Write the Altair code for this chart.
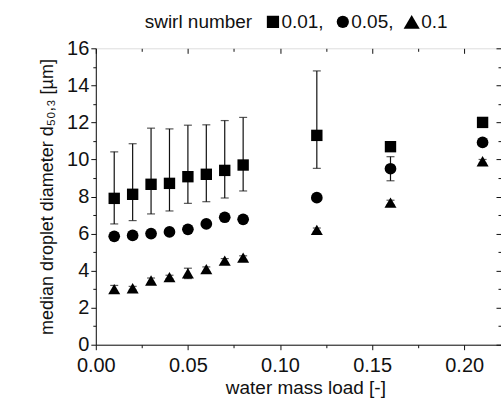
import altair as alt
import pandas as pd

# ---- data ----
load = [0.01, 0.02, 0.03, 0.04, 0.05, 0.06, 0.07, 0.08, 0.12, 0.16, 0.21]

d_s001 = [7.90, 8.12, 8.66, 8.71, 9.07, 9.20, 9.41, 9.70, 11.30, 10.69, 12.00]
lo_s001 = [6.52, 6.70, 7.06, 7.22, 7.63, 7.72, 7.92, 8.30, 9.52, 10.55, 11.90]
hi_s001 = [10.41, 10.85, 11.69, 11.65, 11.85, 11.87, 12.10, 12.27, 14.78, 10.85, 12.10]

d_s005 = [5.85, 5.90, 6.00, 6.09, 6.23, 6.52, 6.88, 6.77, 7.94, 9.50, 10.92]
lo_s005 = [5.65, 5.75, 5.85, 5.95, 6.10, 6.40, 6.75, 6.65, 7.80, 8.85, 10.80]
hi_s005 = [6.05, 6.05, 6.15, 6.25, 6.40, 6.65, 7.00, 6.90, 8.10, 10.15, 11.05]

d_s01 = [3.00, 3.05, 3.47, 3.65, 3.86, 4.08, 4.54, 4.70, 6.20, 7.67, 9.90]
lo_s01 = [2.80, 2.95, 3.35, 3.55, 3.57, 3.95, 4.40, 4.60, 6.10, 7.55, 9.80]
hi_s01 = [3.20, 3.15, 3.60, 3.75, 4.13, 4.20, 4.65, 4.80, 6.30, 7.80, 10.00]

swirl_labels = ["0.01", "0.05", "0.1"]
shapes = ["square", "circle", "triangle-up"]
marker_sizes = [130, 145, 280]

x_major = [0.0, 0.05, 0.10, 0.15, 0.20]
x_minor = [0.025, 0.075, 0.125, 0.175]
y_major = [0, 2, 4, 6, 8, 10, 12, 14, 16]
y_minor = [1, 3, 5, 7, 9, 11, 13, 15]

rows = []
for lab, d, lo, hi in zip(swirl_labels, [d_s001, d_s005, d_s01],
                          [lo_s001, lo_s005, lo_s01], [hi_s001, hi_s005, hi_s01]):
    for xv, dv, lv, hv in zip(load, d, lo, hi):
        rows.append({"swirl": lab, "load": xv, "d": dv, "lo": lv, "hi": hv})
df = pd.DataFrame(rows)

FONT = "Liberation Sans"
INK = "#111111"
xscale = alt.Scale(domain=[0, 0.22], nice=False, zero=False)
yscale = alt.Scale(domain=[0, 16], nice=False)

x_all = sorted(x_major + x_minor)
y_all = sorted(y_major + y_minor)

x_main_axis = alt.Axis(
    values=x_all, format=".2f",
    labelExpr="round(datum.value*40) % 2 == 0 ? datum.label : ''",
    tickSize={"condition": {"test": "round(datum.value*40) % 2 == 0", "value": 5}, "value": 3},
    title="water mass load [-]", labelFontSize=20, titleFontSize=19,
    labelFont=FONT, titleFont=FONT, labelColor=INK, titleColor=INK,
    domainColor=INK, tickColor=INK, grid=False, labelPadding=6, titlePadding=3,
    titleFontWeight="normal", labelFlush=False, titleX=210,
)
y_main_axis = alt.Axis(
    values=y_all,
    labelExpr="datum.value % 2 == 0 ? datum.label : ''",
    tickSize={"condition": {"test": "datum.value % 2 == 0", "value": 5}, "value": 3},
    title="median droplet diameter d₅₀,₃ [µm]", labelFontSize=20, titleFontSize=18,
    labelFont=FONT, titleFont=FONT, labelColor=INK, titleColor=INK,
    domainColor=INK, tickColor=INK, grid=False, labelPadding=2, titlePadding=10,
    titleFontWeight="normal", labelFlush=False,
)

base = alt.Chart(df)

rules = base.mark_rule(color=INK, strokeWidth=1.2).encode(
    x=alt.X("load:Q", scale=xscale, axis=x_main_axis),
    y=alt.Y("lo:Q", scale=yscale, axis=y_main_axis),
    y2="hi:Q",
)

caps_lo = base.mark_tick(color=INK, orient="horizontal", size=8, thickness=1.2).encode(
    x=alt.X("load:Q", scale=xscale,
            axis=alt.Axis(orient="top", values=x_major, offset=-5, tickSize=5, labels=False,
                          domain=False, title=None, grid=False, tickColor=INK)),
    y=alt.Y("lo:Q", scale=yscale,
            axis=alt.Axis(orient="right", values=y_major, offset=-5, tickSize=5, labels=False,
                          domain=False, title=None, grid=False, tickColor=INK)),
)

caps_hi = base.mark_tick(color=INK, orient="horizontal", size=8, thickness=1.2).encode(
    x=alt.X("load:Q", scale=xscale,
            axis=alt.Axis(orient="top", values=x_minor, offset=-3, tickSize=3, labels=False,
                          domain=False, title=None, grid=False, tickColor=INK)),
    y=alt.Y("hi:Q", scale=yscale,
            axis=alt.Axis(orient="right", values=y_minor, offset=-3, tickSize=3, labels=False,
                          domain=False, title=None, grid=False, tickColor=INK)),
)

points = base.mark_point(filled=True, opacity=1, color="black").encode(
    x=alt.X("load:Q", scale=xscale, axis=None),
    y=alt.Y("d:Q", scale=yscale, axis=None),
    shape=alt.Shape("swirl:N", scale=alt.Scale(domain=swirl_labels, range=shapes), legend=None),
    size=alt.Size("swirl:N", scale=alt.Scale(domain=swirl_labels, range=marker_sizes), legend=None),
)

# ---- header legend "swirl number ■0.01, ●0.05, ▲0.1" ----
hdr_y = -20
hdr_txt_kw = dict(font=FONT, fontSize=19, color=INK, align="left", baseline="alphabetic")
hdr_parts = [
    alt.Chart().mark_text(text="swirl number", **hdr_txt_kw).encode(x=alt.value(49), y=alt.value(hdr_y)),
    alt.Chart().mark_point(shape="square", filled=True, opacity=1, color="black", size=150)
    .encode(x=alt.value(177.5), y=alt.value(hdr_y - 6.5)),
    alt.Chart().mark_text(text="0.01,", **hdr_txt_kw).encode(x=alt.value(186), y=alt.value(hdr_y)),
    alt.Chart().mark_point(shape="circle", filled=True, opacity=1, color="black", size=150)
    .encode(x=alt.value(247.5), y=alt.value(hdr_y - 6.5)),
    alt.Chart().mark_text(text="0.05,", **hdr_txt_kw).encode(x=alt.value(256), y=alt.value(hdr_y)),
    alt.Chart().mark_point(shape="triangle-up", filled=True, opacity=1, color="black", size=260)
    .encode(x=alt.value(316.5), y=alt.value(hdr_y - 6.5)),
    alt.Chart().mark_text(text="0.1", **hdr_txt_kw).encode(x=alt.value(326), y=alt.value(hdr_y)),
]

chart = alt.layer(rules, caps_lo, caps_hi, points, *hdr_parts).resolve_axis(
    x="independent", y="independent"
).properties(
    width=406, height=297,
    autosize=alt.AutoSizeParams(type="none"),
    padding={"left": 96, "top": 48, "right": 0, "bottom": 63},
).configure_view(stroke=INK, strokeWidth=1).configure(background="white")

chart.save("out.html", embed_options={"renderer": "svg", "actions": False})
